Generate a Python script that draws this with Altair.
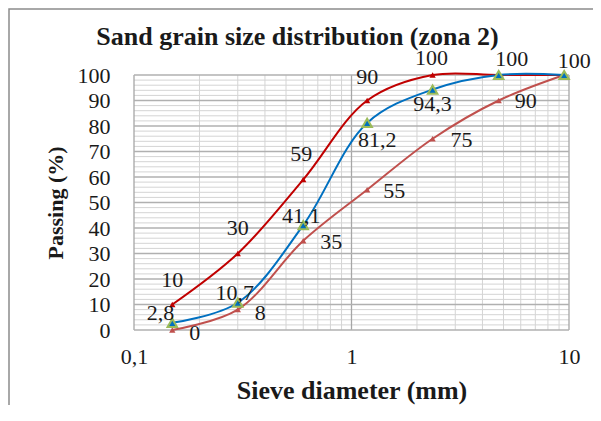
import altair as alt
import pandas as pd

sieve = [0.15, 0.3, 0.6, 1.18, 2.36, 4.75, 9.5]
upper = [10, 30, 59, 90, 100, 100, 100]
lower = [0, 8, 35, 55, 75, 90, 100]
sample = [2.8, 10.7, 41.1, 81.2, 94.3, 100, 100]

x_ticks = [0.1, 1, 10]
x_minor = [0.2, 0.3, 0.4, 0.5, 0.6, 0.7, 0.8, 0.9, 2, 3, 4, 5, 6, 7, 8, 9]
y_major = [0, 10, 20, 30, 40, 50, 60, 70, 80, 90, 100]
y_minor = [v for v in range(0, 101, 2) if v % 10 != 0]

title_text = "Sand grain size distribution (zona 2)"
x_title = "Sieve diameter (mm)"
y_title = "Passing (%)"

# which points carry a visible label per series
upper_lab = [0, 1, 2, 3, 4]
lower_lab = [0, 1, 2, 3, 4, 5]
sample_lab = [0, 1, 2, 3, 4, 5, 6]

W, H = 435, 255
FONT = "Times New Roman, Liberation Serif, serif"
TXT = "#1a1a1a"

def fmt(v):
    return ("%g" % v).replace(".", ",")

rows = []
for name, vals in (("upper", upper), ("lower", lower), ("sample", sample)):
    for x, y in zip(sieve, vals):
        rows.append({"series": name, "d": x, "p": y})
df = pd.DataFrame(rows)

xs = alt.Scale(type="log", domain=[0.1, 10], nice=False)
ys = alt.Scale(domain=[0, 100], nice=False)

AX_X = alt.Axis(values=x_ticks, grid=False, domain=False, ticks=False,
                labelExpr="replace(format(datum.value, '~g'), '.', ',')",
                labelFont=FONT, labelFontSize=22, labelColor=TXT, labelPadding=16,
                titleFont=FONT, titleFontSize=26, titleFontWeight="bold", titleColor=TXT,
                titlePadding=10, labelFlush=False, labelOverlap=False)
AX_Y = alt.Axis(values=y_major, grid=False, domain=False, ticks=False,
                labelFont=FONT, labelFontSize=22, labelColor=TXT, labelPadding=24,
                titleFont=FONT, titleFontSize=22, titleFontWeight="bold", titleColor=TXT,
                titlePadding=10, labelOverlap=False, labelFlush=False)

def X():
    return alt.X("d:Q", scale=xs, axis=AX_X, title=x_title)

def Y():
    return alt.Y("p:Q", scale=ys, axis=AX_Y, title=y_title)

def grid(vals, field, color, sw):
    d = pd.DataFrame({field: vals})
    enc = {"x": X()} if field == "d" else {"y": Y()}
    return alt.Chart(d).mark_rule(color=color, strokeWidth=sw).encode(**enc)

gx_minor = grid(x_minor, "d", "#D4D4D4", 1)
gy_minor = grid(y_minor, "p", "#D4D4D4", 1)
gx_major = grid(x_ticks, "d", "#A6A6A6", 1.3)
gy_major = grid(y_major, "p", "#B0B0B0", 1.3)

def line(name, color, width):
    return alt.Chart(df).transform_filter(alt.datum.series == name).mark_line(
        color=color, strokeWidth=width, interpolate="catmull-rom").encode(x=X(), y=Y())

def pts(name, fill, stroke, size, sw):
    return alt.Chart(df).transform_filter(alt.datum.series == name).mark_point(
        shape="triangle-up", filled=True, fill=fill, stroke=stroke, strokeWidth=sw,
        size=size, opacity=1).encode(x=X(), y=Y())

# label offsets (pixels) per series
off_upper = [(0, -25), (0, -26), (-2, -26), (0, -24), (-1, -17)]
off_lower = [(17, 3), (17, 3), (17, 1), (16, 1), (18, 1), (16, 0)]
off_sample = [(2, -10), (-3, -10), (-2, -9), (10, 17), (0, 14), (13, -16), (10, -14)]

labels = []
def add_labels(name, vals, idxs, offs, align):
    for i, (dx, dy) in zip(idxs, offs):
        a = "right" if (name == "sample" and i == 0) else align
        d = pd.DataFrame({"d": [sieve[i]], "p": [vals[i]], "t": [fmt(vals[i])]})
        labels.append(alt.Chart(d).mark_text(
            font=FONT, fontSize=22, color=TXT, dx=dx, dy=dy, align=a, baseline="middle").encode(
            x=X(), y=Y(), text="t:N"))

add_labels("upper", upper, upper_lab, off_upper, "center")
add_labels("lower", lower, lower_lab, off_lower, "left")
add_labels("sample", sample, sample_lab, off_sample, "center")

frame = alt.Chart(pd.DataFrame({"a": [0]})).mark_rect(
    fillOpacity=0, stroke="#8c8c8c", strokeWidth=1.5).encode(
    x=alt.value(-125), x2=alt.value(W + 60), y=alt.value(-66), y2=alt.value(H + 120))

title = alt.Chart(pd.DataFrame({"t": [title_text]})).mark_text(
    font=FONT, fontSize=26, fontWeight="bold", color=TXT, align="center", baseline="middle").encode(
    x=alt.value(W / 2 - 54), y=alt.value(-38), text="t:N")

chart = alt.layer(
    gx_minor, gy_minor, gx_major, gy_major, frame,
    line("lower", "#C0504D", 2), line("upper", "#C00000", 2), line("sample", "#0070C0", 2),
    pts("lower", "#C0504D", "#C0504D", 40, 0),
    pts("upper", "#C00000", "#C00000", 40, 0),
    pts("sample", "#0070C0", "#9BBB59", 90, 2),
    title, *labels
).properties(
    width=W, height=H,
    autosize=alt.AutoSizeParams(type="none"),
    padding={"left": 126, "top": 67, "right": 24, "bottom": 75},
).configure_view(stroke=None)

chart.save("out.html", embed_options={"renderer": "svg", "actions": False})
